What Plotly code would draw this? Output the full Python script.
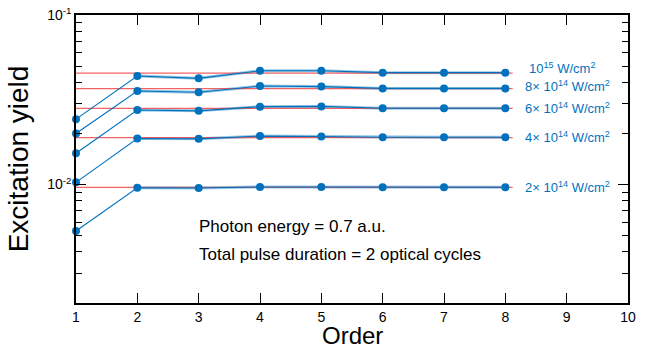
import math
import plotly.graph_objects as go

order = [1, 2, 3, 4, 5, 6, 7, 8]
labels = ["10<sup>15</sup> W/cm<sup>2</sup>",
          "8\u00d7 10<sup>14</sup> W/cm<sup>2</sup>",
          "6\u00d7 10<sup>14</sup> W/cm<sup>2</sup>",
          "4\u00d7 10<sup>14</sup> W/cm<sup>2</sup>",
          "2\u00d7 10<sup>14</sup> W/cm<sup>2</sup>"]
y_1e15 = [0.0243, 0.0437, 0.0423, 0.0469, 0.0469, 0.0457, 0.0457, 0.0457]
y_8e14 = [0.0200, 0.0356, 0.0350, 0.0381, 0.0378, 0.0369, 0.0369, 0.0369]
y_6e14 = [0.0153, 0.0275, 0.0272, 0.0288, 0.0289, 0.0282, 0.0282, 0.0282]
y_4e14 = [0.0103, 0.0187, 0.0186, 0.0193, 0.0192, 0.0190, 0.0190, 0.0190]
y_2e14 = [0.00532, 0.00957, 0.00953, 0.00967, 0.00967, 0.00963, 0.00963, 0.00963]
exact = [0.0454, 0.0368, 0.0281, 0.0189, 0.00963]
series = [y_1e15, y_8e14, y_6e14, y_4e14, y_2e14]
ref_x = [1, 8.12]
label_y = [0.0486, 0.0380, 0.0283, 0.0191, 0.00968]
label_x = [8.35, 8.29, 8.29, 8.29, 8.29]

x_ticks = list(range(1, 11))
y_major = [0.01, 0.1]
y_major_text = ["10<sup>-2</sup>", "10<sup>-1</sup>"]
y_minor = [k * 1e-3 for k in range(2, 10)] + [k * 1e-2 for k in range(2, 10)]

BLUE = "#0072BD"
FONT = "Liberation Sans, Arial, sans-serif"

fig = go.Figure()
for ys in series:
    fig.add_trace(go.Scatter(x=order[1:], y=ys[1:], mode="lines",
                             line=dict(color="rgba(0,114,189,0.4)", width=3),
                             hoverinfo="skip", showlegend=False, cliponaxis=False))
for ev in exact:
    fig.add_trace(go.Scatter(x=ref_x, y=[ev, ev], mode="lines",
                             line=dict(color="rgba(240,60,60,0.8)", width=1.3),
                             showlegend=False, cliponaxis=False))
for ys in series:
    fig.add_trace(go.Scatter(x=order, y=ys, mode="lines+markers",
                             line=dict(color=BLUE, width=1.1),
                             marker=dict(color=BLUE, size=8),
                             showlegend=False, cliponaxis=False))

for lab, lx, ly in zip(labels, label_x, label_y):
    fig.add_annotation(x=lx, y=math.log10(ly), xref="x", yref="y", text=lab,
                       showarrow=False, xanchor="left", yanchor="middle",
                       font=dict(color=BLUE, size=13, family=FONT))

fig.add_annotation(x=2.98, y=math.log10(0.00569), xref="x", yref="y",
                   text="Photon energy = 0.7 a.u.",
                   showarrow=False, xanchor="left", yanchor="middle",
                   font=dict(color="black", size=17, family=FONT))
fig.add_annotation(x=2.98, y=math.log10(0.00389), xref="x", yref="y",
                   text="Total pulse duration = 2 optical cycles",
                   showarrow=False, xanchor="left", yanchor="middle",
                   font=dict(color="black", size=17, family=FONT))

# x-axis title
fig.add_annotation(x=0.5, y=-47 / 288, xref="paper", yref="paper", text="Order",
                   showarrow=False, xanchor="center", yanchor="bottom", borderpad=0,
                   font=dict(color="black", size=24, family=FONT))

fig.update_layout(
    width=645, height=350,
    margin=dict(l=76, r=17, t=15, b=47),
    paper_bgcolor="white", plot_bgcolor="white",
    font=dict(family=FONT, color="black", size=14),
    showlegend=False,
)
fig.update_xaxes(range=[1, 10], tickvals=x_ticks, ticks="inside", ticklen=10,
                 tickwidth=1, tickcolor="black", showline=True, linecolor="black",
                 linewidth=1.5, mirror="ticks", showgrid=False, zeroline=False,
                 automargin=False,
                 tickfont=dict(size=14, family=FONT))
fig.update_yaxes(type="log", range=[-2.69897, -1], tickvals=y_major, ticktext=y_major_text,
                 ticks="inside", ticklen=10, tickwidth=1, tickcolor="black",
                 minor=dict(tickvals=y_minor, ticks="inside", ticklen=6, tickcolor="black",
                            tickwidth=1, showgrid=False),
                 showline=True, linecolor="black", linewidth=1.5, mirror="ticks",
                 showgrid=False, zeroline=False, automargin=False,
                 tickfont=dict(size=14, family=FONT),
                 title=dict(text="Excitation yield", font=dict(size=28, family=FONT), standoff=10))

fig.write_html("out.html")
